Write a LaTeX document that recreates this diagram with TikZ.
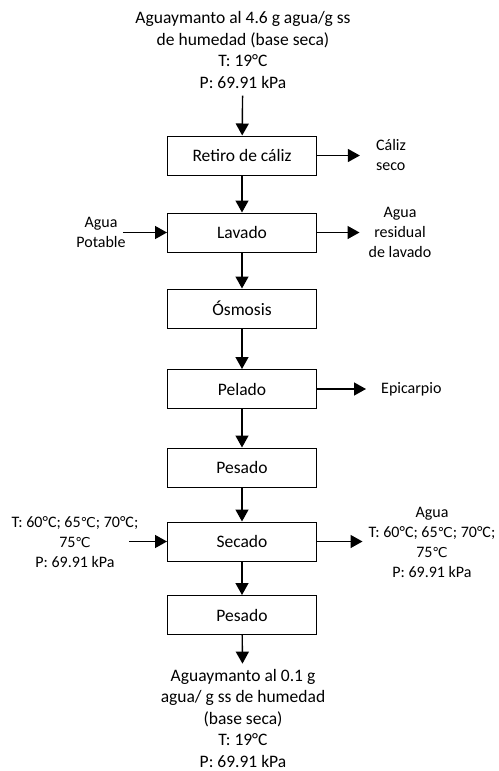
\documentclass[tikz,border=0pt]{standalone}
\usepackage{fontspec}
\setmainfont{Carlito}
\newfontfamily\dvfont{DejaVu Sans}[Scale=0.85]
\newcommand{\dgc}{{\dvfont ℃}}
\usetikzlibrary{arrows.meta}
\begin{document}
\begin{tikzpicture}[x=1pt,y=-1pt,
  every node/.style={font=\fontsize{17.5}{21.5}\selectfont},
  proc/.style={draw,line width=1pt,minimum width=149pt,minimum height=39pt,inner sep=0pt},
  side/.style={align=center,inner sep=0pt,font=\fontsize{16}{20}\selectfont},
  main/.style={align=center,inner sep=0pt},
  arr/.style={line width=1.4pt,-{Triangle[length=12pt,width=13pt]}}]
\useasboundingbox (0,0) rectangle (498,771);
\node[main] (top) at (243,50) {Aguaymanto al 4.6 g agua/g ss\\de humedad (base seca)\\T: 19°C\\P: 69.91 kPa};
\node[proc] (b1) at (242,155.5) {Retiro de cáliz};
\node[proc] (b2) at (242,232.5) {Lavado};
\node[proc] (b3) at (242,308.5) {Ósmosis};
\node[proc] (b4) at (242,389) {Pelado};
\node[proc] (b5) at (242,467.5) {Pesado};
\node[proc] (b6) at (242,541.5) {Secado};
\node[proc] (b7) at (242,615) {Pesado};
\node[main] (bot) at (243,718) {Aguaymanto al 0.1 g\\agua/ g ss de humedad\\(base seca)\\T: 19°C\\P: 69.91 kPa};
\node[side,align=left] (caliz) at (391,155) {Cáliz\\seco};
\node[side] (potable) at (101,232) {Agua\\Potable};
\node[side] (resid) at (400,232) {Agua\\residual\\de lavado};
\node[side,anchor=west] (epi) at (381,389) {Epicarpio};
\node[side] (sl) at (75,542) {T: 60°C; 65\dgc; 70°C;\\75\dgc\\P: 69.91 kPa};
\node[side] (sr) at (432,542) {Agua\\T: 60°C; 65\dgc; 70°C;\\75\dgc\\P: 69.91 kPa};
\draw[arr,shorten <=7pt] (top) -- (b1);
\draw[arr] (b1) -- (b2);
\draw[arr] (b2) -- (b3);
\draw[arr] (b3) -- (b4);
\draw[arr] (b4) -- (b5);
\draw[arr] (b5) -- (b6);
\draw[arr] (b6) -- (b7);
\draw[arr,shorten >=5pt] (b7) -- (bot);
\draw[arr,shorten >=16pt] (b1.east) -- (caliz.west |- b1.east);
\draw[arr,shorten <=-3pt] (potable.east |- b2.west) -- (b2.west);
\draw[arr,shorten >=9pt] (b2.east) -- (resid.west |- b2.east);
\draw[arr,shorten >=15pt] (b4.east) -- (epi.west |- b4.east);
\draw[arr,shorten <=-9pt] (sl.east |- b6.west) -- (b6.west);
\draw[arr,shorten >=6pt] (b6.east) -- (sr.west |- b6.east);
\end{tikzpicture}
\end{document}
